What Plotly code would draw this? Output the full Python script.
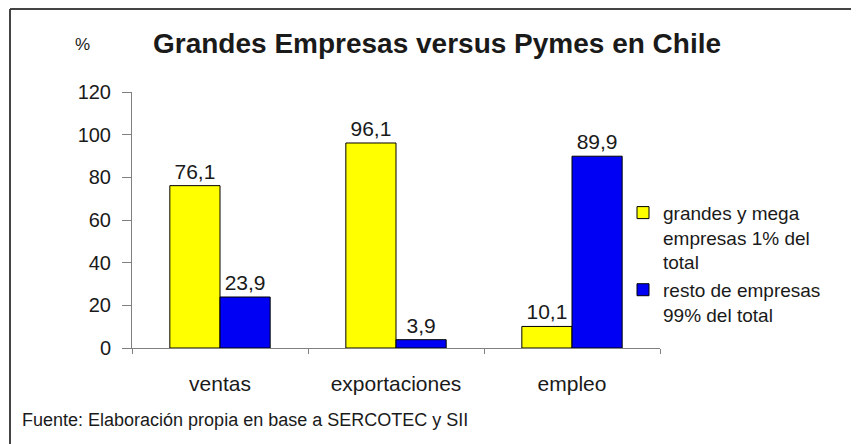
import plotly.graph_objects as go

categories = ["ventas", "exportaciones", "empleo"]
grandes = [76.1, 96.1, 10.1]
resto = [23.9, 3.9, 89.9]
series_names = ["grandes y mega<br>empresas 1% del<br>total", "resto de empresas<br>99% del total"]
y_ticks = [0, 20, 40, 60, 80, 100, 120]

FONT = "Liberation Sans, Arial, sans-serif"
TXT = "#1a1a1a"

OFF = 8  # page body margin
W, H = 859 - OFF, 444 - OFF
# plot area in page coordinates
L, R, T, B = 132, 660, 92.4, 348
ml, mr, mt, mb = L - OFF, W - (R - OFF), T - OFF, H - (B - OFF)

def px(x):
    return (x - L) / (R - L)

def py(y):
    return (B - y) / (B - T)

fig = go.Figure()
fig.add_trace(go.Bar(
    x=categories, y=grandes, name=series_names[0],
    marker=dict(color="#FFFF00", line=dict(color="#000000", width=1)),
    texttemplate="%{y:.1f}", textposition="outside",
    textfont=dict(family=FONT, size=21, color=TXT), cliponaxis=False,
))
fig.add_trace(go.Bar(
    x=categories, y=resto, name=series_names[1],
    marker=dict(color="#0000F5", line=dict(color="#000000", width=1)),
    texttemplate="%{y:.1f}", textposition="outside",
    textfont=dict(family=FONT, size=21, color=TXT), cliponaxis=False,
))

fig.update_layout(
    width=W, height=H,
    margin=dict(l=ml, r=mr, t=mt, b=mb, autoexpand=False),
    paper_bgcolor="white", plot_bgcolor="white",
    separators=", ",
    barmode="group", bargap=0.43, bargroupgap=0,
    font=dict(family=FONT, size=18, color=TXT),
    showlegend=True,
    legend=dict(x=px(623), y=py(194), xanchor="left", yanchor="top",
                font=dict(family=FONT, size=19, color=TXT), valign="top",
                itemwidth=30, tracegroupgap=0, bgcolor="rgba(0,0,0,0)"),
    xaxis=dict(showline=True, linecolor="#808080", linewidth=1,
               ticks="outside", tickson="boundaries", ticklen=5, tickcolor="#808080",
               ticklabelstandoff=17,
               tickfont=dict(family=FONT, size=21, color=TXT), showgrid=False),
    yaxis=dict(range=[0, 120], tickvals=y_ticks, showline=True, linecolor="#808080",
               linewidth=1, ticks="outside", ticklen=9, tickcolor="#808080",
               ticklabelstandoff=7,
               tickfont=dict(family=FONT, size=20, color=TXT), showgrid=False,
               zeroline=False),
    annotations=[
        dict(text="<b>Grandes Empresas versus Pymes en Chile</b>", xref="paper", yref="paper",
             x=px(437), y=py(44), xanchor="center", yanchor="middle", showarrow=False,
             font=dict(family=FONT, size=28, color=TXT)),
        dict(text="%", xref="paper", yref="paper", x=px(82), y=py(45),
             xanchor="center", yanchor="middle", showarrow=False,
             font=dict(family=FONT, size=17, color=TXT)),
        dict(text="Fuente: Elaboración propia en base a SERCOTEC y SII", xref="paper", yref="paper",
             x=px(20), y=py(420), xanchor="left", yanchor="middle", showarrow=False,
             font=dict(family=FONT, size=18, color=TXT)),
    ],
    shapes=[
        dict(type="line", xref="paper", yref="paper", x0=px(10), x1=px(870), y0=py(9.5), y1=py(9.5),
             line=dict(color="#444444", width=2)),
        dict(type="line", xref="paper", yref="paper", x0=px(10), x1=px(10), y0=py(9.5), y1=py(460),
             line=dict(color="#444444", width=2)),
    ],
)

fig.write_html("out.html")
